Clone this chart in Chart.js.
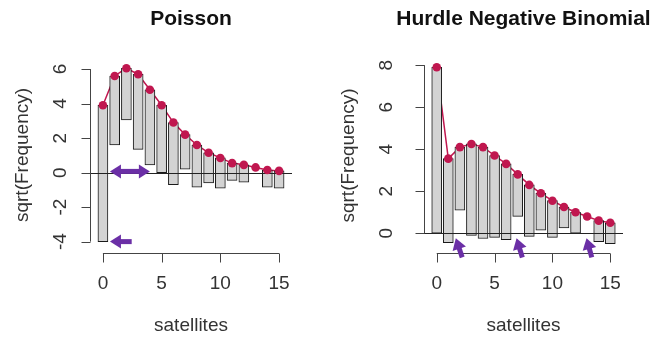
<!DOCTYPE html>
<html>
<head>
<meta charset="utf-8">
<script src="https://cdn.jsdelivr.net/npm/chart.js@4.4.0/dist/chart.umd.min.js"></script>
<style>
  html, body { margin: 0; padding: 0; background: #fff; }
  #wrap { width: 652px; height: 338px; display: flex; }
  .panel { width: 326px; height: 338px; position: relative; }
</style>
</head>
<body>
<div id="wrap">
  <div class="panel"><canvas id="poisson" width="326" height="338"></canvas></div>
  <div class="panel"><canvas id="hurdle" width="326" height="338"></canvas></div>
</div>
<script>
// satellites 0..15, values on sqrt(Frequency) scale
const satellites = [0, 1, 2, 3, 4, 5, 6, 7, 8, 9, 10, 11, 12, 13, 14, 15];
const observedSqrt = [7.9, 4.0, 3.0, 4.35, 4.35, 3.9, 3.6, 2.0, 2.45, 1.75, 1.75, 1.0, 1.0, 0, 1.0, 1.0];
const poissonSqrt = [3.9, 5.6, 6.05, 5.7, 4.8, 3.9, 2.9, 2.2, 1.6, 1.15, 0.85, 0.55, 0.45, 0.3, 0.15, 0.1];
const hurdleSqrt = [7.9, 3.55, 4.1, 4.25, 4.1, 3.7, 3.3, 2.8, 2.3, 1.9, 1.55, 1.25, 1.0, 0.8, 0.6, 0.5];

const xTicks = [0, 5, 10, 15];
const poissonYTicks = [-4, -2, 0, 2, 4, 6];
const hurdleYTicks = [0, 2, 4, 6, 8];

// purple annotation arrows: [tipX, tipY, tailX, tailY, doubleHeaded]
const poissonArrows = [
  [0.6, 0.07, 4.0, 0.07, true],
  [0.6, -4.0, 2.45, -4.0, false],
];
const hurdleArrows = [
  [1.65, -0.24, 2.2, -1.15, false],
  [6.9, -0.24, 7.4, -1.15, false],
  [12.95, -0.24, 13.4, -1.15, false],
];

const FONT = "'Liberation Sans', Arial, sans-serif";
const RED = "#c0174f";
const PURPLE = "#6b2fa6";

const drawArrow = (ctx, tx, ty, sx, sy, both) => {
  const ang = Math.atan2(ty - sy, tx - sx);
  const head = 11, half = 7;
  const headAt = (x, y, a) => {
    ctx.beginPath();
    ctx.moveTo(x, y);
    ctx.lineTo(x - head * Math.cos(a) + half * Math.sin(a), y - head * Math.sin(a) - half * Math.cos(a));
    ctx.lineTo(x - head * Math.cos(a) - half * Math.sin(a), y - head * Math.sin(a) + half * Math.cos(a));
    ctx.closePath();
    ctx.fill();
  };
  ctx.beginPath();
  const x1 = tx - (head - 2) * Math.cos(ang), y1 = ty - (head - 2) * Math.sin(ang);
  let x2 = sx, y2 = sy;
  if (both) { x2 = sx + (head - 2) * Math.cos(ang); y2 = sy + (head - 2) * Math.sin(ang); }
  ctx.moveTo(x1, y1);
  ctx.lineTo(x2, y2);
  ctx.stroke();
  headAt(tx, ty, ang);
  if (both) headAt(sx, sy, ang + Math.PI);
};

// R style base graphics: detached axes, rotated y labels, zero line, title
const rAxes = {
  id: "rAxes",
  afterDatasetDraw(chart, args) {
    if (chart.data.datasets[args.index].label !== "observed") return;
    const { ctx, chartArea } = chart;
    const y0 = chart.scales.y.getPixelForValue(0);
    ctx.save();
    ctx.strokeStyle = "#222";
    ctx.lineWidth = 1;
    ctx.beginPath();
    ctx.moveTo(chartArea.left, Math.round(y0) + 0.5);
    ctx.lineTo(chartArea.right, Math.round(y0) + 0.5);
    ctx.stroke();
    ctx.restore();
  },
  afterDatasetsDraw(chart, args, opts) {
    const { ctx, chartArea } = chart;
    const xs = chart.scales.x, ys = chart.scales.y;
    ctx.save();
    ctx.strokeStyle = "#444";
    ctx.lineWidth = 1;
    ctx.fillStyle = "#333";

    // x axis
    const xv = xs.ticks.map((t) => t.value);
    const ax = Math.round(chartArea.bottom) + 0.5;
    ctx.beginPath();
    ctx.moveTo(xs.getPixelForValue(xv[0]), ax);
    ctx.lineTo(xs.getPixelForValue(xv[xv.length - 1]), ax);
    xv.forEach((v) => {
      const p = Math.round(xs.getPixelForValue(v)) + 0.5;
      ctx.moveTo(p, ax);
      ctx.lineTo(p, ax + 9);
    });
    ctx.stroke();
    ctx.font = "19px " + FONT;
    ctx.textAlign = "center";
    ctx.textBaseline = "middle";
    xv.forEach((v) => ctx.fillText(String(v), xs.getPixelForValue(v), 284));

    // y axis
    const yv = ys.ticks.map((t) => t.value);
    const ay = Math.round(chartArea.left) + 0.5;
    ctx.beginPath();
    ctx.moveTo(ay, ys.getPixelForValue(yv[0]));
    ctx.lineTo(ay, ys.getPixelForValue(yv[yv.length - 1]));
    yv.forEach((v) => {
      const p = Math.round(ys.getPixelForValue(v)) + 0.5;
      ctx.moveTo(ay, p);
      ctx.lineTo(ay - 9, p);
    });
    ctx.stroke();
    yv.forEach((v) => {
      ctx.save();
      ctx.translate(61, ys.getPixelForValue(v));
      ctx.rotate(-Math.PI / 2);
      ctx.fillText(String(v), 0, 0);
      ctx.restore();
    });

    // axis titles
    const cx = (chartArea.left + chartArea.right) / 2;
    const cy = (chartArea.top + chartArea.bottom) / 2;
    ctx.fillText("satellites", cx, 326);
    ctx.save();
    ctx.translate(23, cy);
    ctx.rotate(-Math.PI / 2);
    ctx.fillText("sqrt(Frequency)", 0, 0);
    ctx.restore();

    // main title
    ctx.fillStyle = "#111";
    ctx.font = "bold 21px " + FONT;
    ctx.textBaseline = "alphabetic";
    ctx.fillText(opts.title, cx, 25);

    // annotation arrows
    ctx.strokeStyle = PURPLE;
    ctx.fillStyle = PURPLE;
    ctx.lineWidth = 5;
    opts.arrows.forEach((a) => {
      drawArrow(ctx, xs.getPixelForValue(a[0]), ys.getPixelForValue(a[1]),
        xs.getPixelForValue(a[2]), ys.getPixelForValue(a[3]), a[4]);
    });
    ctx.restore();
  },
};

const makeRootogram = (id, title, expected, yTicks, yMin, yMax, padding, arrows) => {
  const bars = satellites.map((s, i) => ({ x: s, y: [expected[i] - observedSqrt[i], expected[i]] }));
  const curve = satellites.map((s, i) => ({ x: s, y: expected[i] }));
  return new Chart(document.getElementById(id), {
    type: "bar",
    data: {
      datasets: [
        {
          // expected curve sits under the bars, only seen in gaps
          type: "line",
          label: "expected line",
          data: curve,
          borderColor: RED,
          borderWidth: 1.5,
          pointRadius: 0,
          order: 3,
        },
        {
          label: "observed",
          data: bars,
          backgroundColor: "#d3d3d3",
          borderColor: "#1a1a1a",
          borderWidth: 1,
          borderSkipped: false,
          barThickness: 10,
          order: 2,
        },
        {
          type: "line",
          label: "expected",
          data: curve,
          showLine: false,
          pointRadius: 4.3,
          pointBackgroundColor: RED,
          pointBorderWidth: 0,
          order: 1,
        },
      ],
    },
    options: {
      responsive: false,
      animation: false,
      devicePixelRatio: 1,
      layout: { padding: padding },
      scales: {
        x: {
          type: "linear",
          display: false,
          offset: false,
          min: -1.1,
          max: 16.1,
          afterBuildTicks: (axis) => { axis.ticks = xTicks.map((v) => ({ value: v })); },
        },
        y: {
          display: false,
          min: yMin,
          max: yMax,
          afterBuildTicks: (axis) => { axis.ticks = yTicks.map((v) => ({ value: v })); },
        },
      },
      plugins: {
        legend: { display: false },
        tooltip: { enabled: false },
        rAxes: { title: title, arrows: arrows },
      },
    },
    plugins: [rAxes],
  });
};

makeRootogram("poisson", "Poisson", poissonSqrt, poissonYTicks, -4.66, 6.7,
  { left: 90, right: 34, top: 57, bottom: 85 }, poissonArrows);
makeRootogram("hurdle", "Hurdle Negative Binomial", hurdleSqrt, hurdleYTicks, -0.94, 8.34,
  { left: 98, right: 29, top: 58, bottom: 85 }, hurdleArrows);
</script>
</body>
</html>
